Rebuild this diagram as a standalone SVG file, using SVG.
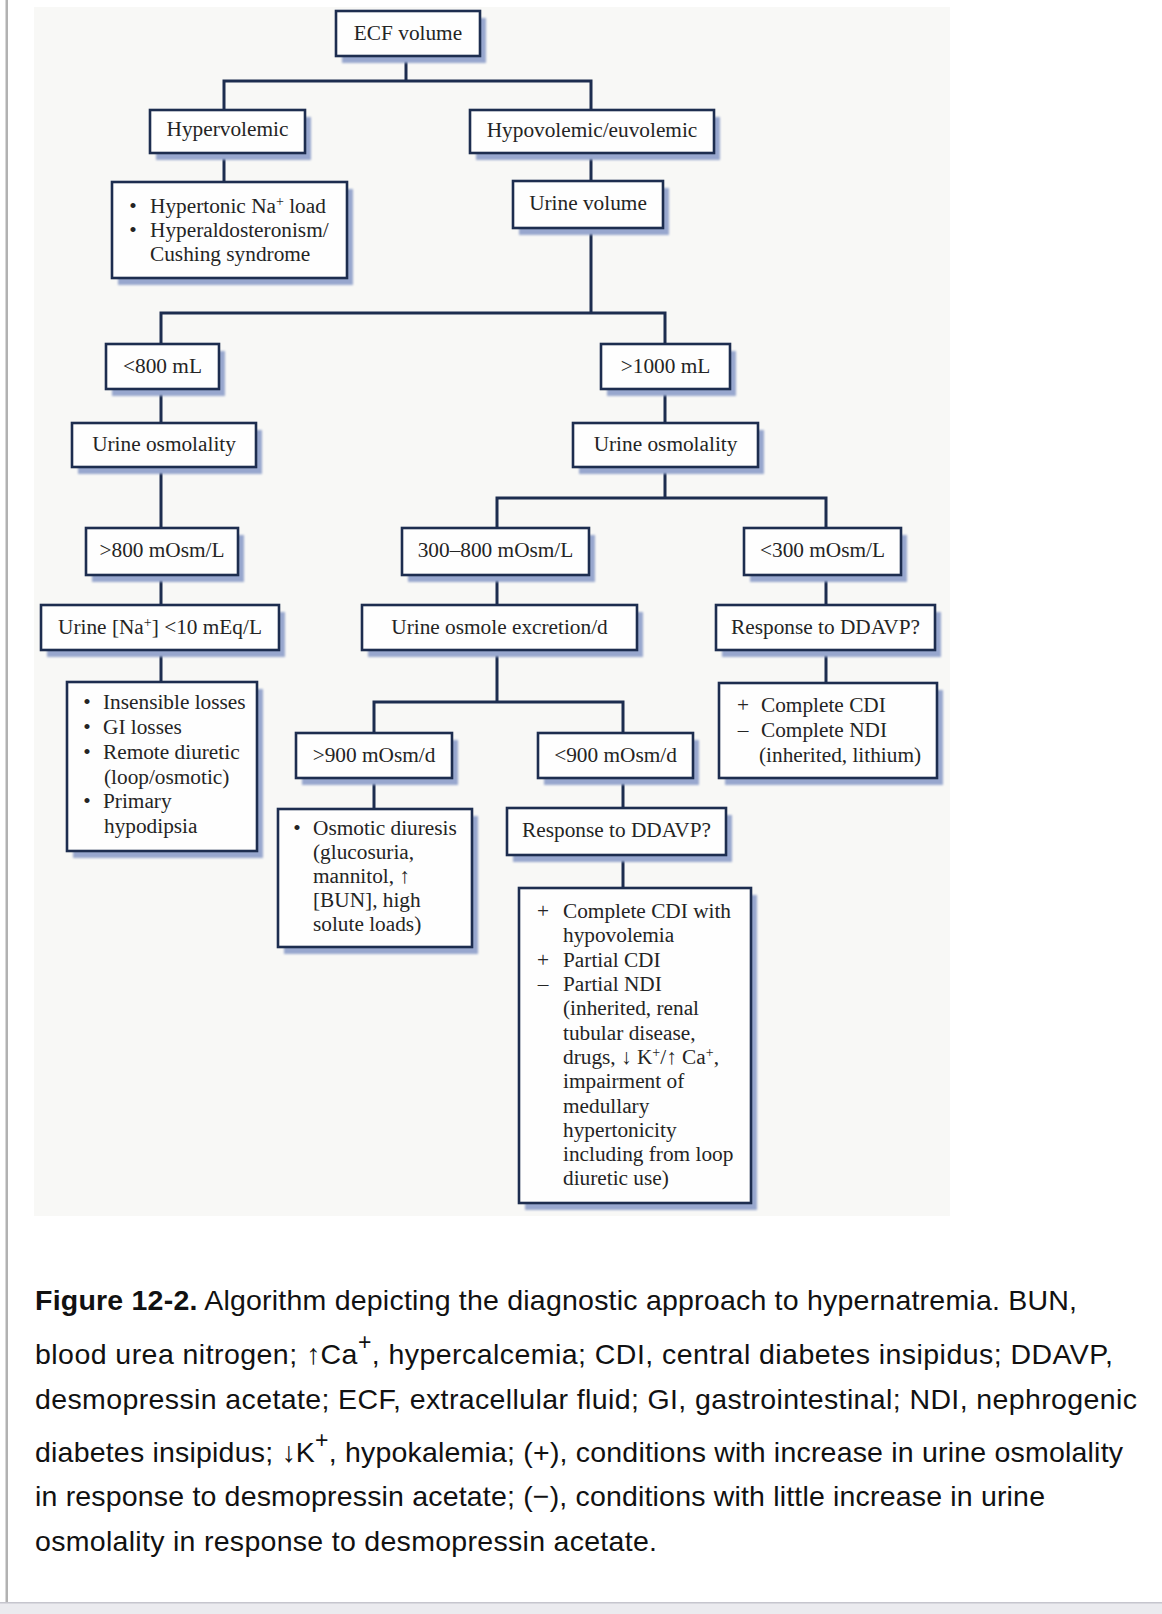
<svg xmlns="http://www.w3.org/2000/svg" width="1162" height="1614" viewBox="0 0 1162 1614">
  <defs>
    <filter id="soft" x="-10%" y="-10%" width="120%" height="120%">
      <feGaussianBlur stdDeviation="0.8"/>
    </filter>
  </defs>
  <style>
    .shadow{fill:#98a7ce;filter:url(#soft)}
    .box{fill:#fefefe;stroke:#1d2d4f;stroke-width:2.6}
    .t{font-family:"Liberation Serif","Times New Roman",serif;font-size:21.3px;fill:#242424}
    .c{text-anchor:middle}
    .sup{font-size:14px}
    .link{fill:none;stroke:#1d2d4f;stroke-width:3;stroke-linejoin:miter}
    .cap{font-family:"Liberation Sans",Arial,sans-serif;font-size:28.5px;fill:#111}
    .capsup{font-size:23px}
  </style>

  <!-- page -->
  <rect x="0" y="0" width="1162" height="1614" fill="#ffffff"/>
  <rect x="34" y="7" width="916" height="1209" fill="#f8f8f6"/>
  <rect x="5.5" y="0" width="2.5" height="1603" fill="#b2b2b2"/>
  <rect x="0" y="1603" width="1162" height="11" fill="#ebebef"/>
  <rect x="0" y="1602" width="1162" height="1.5" fill="#c6c6ce"/>

  <!-- connectors -->
  <g id="connectors" class="link">
    <path d="M406 56 V81 M224 110 V81 H591 V110"/>
    <path d="M224 153 V182"/>
    <path d="M591 153 V181 M591 228 V313"/>
    <path d="M161 344 V313 H665 V344"/>
    <path d="M161 389 V423 M161 467 V528 M161 575 V605 M161 650 V682"/>
    <path d="M665 389 V423 M665 467 V498"/>
    <path d="M497 528 V498 H826 V528"/>
    <path d="M497 575 V605 M497 650 V702"/>
    <path d="M374 733 V702 H623 V733"/>
    <path d="M374 778 V809"/>
    <path d="M623 778 V808 M623 855 V888"/>
    <path d="M826 575 V605 M826 650 V683"/>
  </g>

  <!-- nodes -->
  <g id="ecf-volume">
    <rect class="shadow" x="342" y="18" width="144" height="45"/>
    <rect class="box" x="336" y="11" width="144" height="45"/>
    <text class="t c" x="408" y="40">ECF volume</text>
  </g>

  <g id="hypervolemic">
    <rect class="shadow" x="156" y="117" width="155" height="43"/>
    <rect class="box" x="150" y="110" width="155" height="43"/>
    <text class="t c" x="227.5" y="136">Hypervolemic</text>
  </g>

  <g id="hypovolemic-euvolemic">
    <rect class="shadow" x="476" y="117" width="244" height="43"/>
    <rect class="box" x="470" y="110" width="244" height="43"/>
    <text class="t c" x="592" y="137">Hypovolemic/euvolemic</text>
  </g>

  <g id="hypervolemic-causes">
    <rect class="shadow" x="118" y="189" width="235" height="96"/>
    <rect class="box" x="112" y="182" width="235" height="96"/>
    <text class="t" x="133" y="213" text-anchor="middle">•</text>
    <text class="t" x="150" y="213">Hypertonic Na<tspan class="sup" dy="-7">+</tspan><tspan dy="7"> load</tspan></text>
    <text class="t" x="133" y="237" text-anchor="middle">•</text>
    <text class="t" x="150" y="237">Hyperaldosteronism/</text>
    <text class="t" x="150" y="261">Cushing syndrome</text>
  </g>

  <g id="urine-volume">
    <rect class="shadow" x="519" y="188" width="150" height="47"/>
    <rect class="box" x="513" y="181" width="150" height="47"/>
    <text class="t c" x="588" y="210">Urine volume</text>
  </g>

  <g id="lt-800-ml">
    <rect class="shadow" x="112" y="351" width="113" height="45"/>
    <rect class="box" x="106" y="344" width="113" height="45"/>
    <text class="t c" x="162.5" y="373">&lt;800 mL</text>
  </g>

  <g id="gt-1000-ml">
    <rect class="shadow" x="607" y="351" width="129" height="45"/>
    <rect class="box" x="601" y="344" width="129" height="45"/>
    <text class="t c" x="665.5" y="373">&gt;1000 mL</text>
  </g>

  <g id="urine-osmolality-left">
    <rect class="shadow" x="78" y="430" width="184" height="44"/>
    <rect class="box" x="72" y="423" width="184" height="44"/>
    <text class="t c" x="164" y="451">Urine osmolality</text>
  </g>

  <g id="urine-osmolality-right">
    <rect class="shadow" x="579" y="430" width="185" height="44"/>
    <rect class="box" x="573" y="423" width="185" height="44"/>
    <text class="t c" x="665.5" y="451">Urine osmolality</text>
  </g>

  <g id="gt-800-mosm-l">
    <rect class="shadow" x="92" y="535" width="152" height="47"/>
    <rect class="box" x="86" y="528" width="152" height="47"/>
    <text class="t c" x="162" y="557">&gt;800 mOsm/L</text>
  </g>

  <g id="mosm-300-800">
    <rect class="shadow" x="408" y="535" width="187" height="47"/>
    <rect class="box" x="402" y="528" width="187" height="47"/>
    <text class="t c" x="495.5" y="557">300–800 mOsm/L</text>
  </g>

  <g id="lt-300-mosm-l">
    <rect class="shadow" x="750" y="535" width="157" height="47"/>
    <rect class="box" x="744" y="528" width="157" height="47"/>
    <text class="t c" x="822.5" y="557">&lt;300 mOsm/L</text>
  </g>

  <g id="urine-sodium">
    <rect class="shadow" x="47" y="612" width="238" height="45"/>
    <rect class="box" x="41" y="605" width="238" height="45"/>
    <text class="t c" x="160" y="634">Urine [Na<tspan class="sup" dy="-7">+</tspan><tspan dy="7">] &lt;10 mEq/L</tspan></text>
  </g>

  <g id="urine-osmole-excretion">
    <rect class="shadow" x="368" y="612" width="275" height="45"/>
    <rect class="box" x="362" y="605" width="275" height="45"/>
    <text class="t c" x="499.5" y="634">Urine osmole excretion/d</text>
  </g>

  <g id="ddavp-response-right">
    <rect class="shadow" x="722" y="612" width="219" height="45"/>
    <rect class="box" x="716" y="605" width="219" height="45"/>
    <text class="t c" x="825.5" y="634">Response to DDAVP?</text>
  </g>

  <g id="low-volume-causes">
    <rect class="shadow" x="73" y="689" width="190" height="169"/>
    <rect class="box" x="67" y="682" width="190" height="169"/>
    <text class="t" x="87" y="709" text-anchor="middle">•</text>
    <text class="t" x="103" y="709">Insensible losses</text>
    <text class="t" x="87" y="734" text-anchor="middle">•</text>
    <text class="t" x="103" y="734">GI losses</text>
    <text class="t" x="87" y="759" text-anchor="middle">•</text>
    <text class="t" x="103" y="759">Remote diuretic</text>
    <text class="t" x="104" y="784">(loop/osmotic)</text>
    <text class="t" x="87" y="808" text-anchor="middle">•</text>
    <text class="t" x="103" y="808">Primary</text>
    <text class="t" x="104" y="833">hypodipsia</text>
  </g>

  <g id="gt-900-mosm-d">
    <rect class="shadow" x="302" y="740" width="156" height="45"/>
    <rect class="box" x="296" y="733" width="156" height="45"/>
    <text class="t c" x="374" y="762">&gt;900 mOsm/d</text>
  </g>

  <g id="lt-900-mosm-d">
    <rect class="shadow" x="544" y="740" width="155" height="45"/>
    <rect class="box" x="538" y="733" width="155" height="45"/>
    <text class="t c" x="615.5" y="762">&lt;900 mOsm/d</text>
  </g>

  <g id="complete-di">
    <rect class="shadow" x="725" y="690" width="218" height="95"/>
    <rect class="box" x="719" y="683" width="218" height="95"/>
    <text class="t" x="743" y="712" text-anchor="middle">+</text>
    <text class="t" x="761" y="712">Complete CDI</text>
    <text class="t" x="743" y="737" text-anchor="middle">–</text>
    <text class="t" x="761" y="737">Complete NDI</text>
    <text class="t" x="759" y="762">(inherited, lithium)</text>
  </g>

  <g id="osmotic-diuresis">
    <rect class="shadow" x="284" y="816" width="194" height="138"/>
    <rect class="box" x="278" y="809" width="194" height="138"/>
    <text class="t" x="297" y="835" text-anchor="middle">•</text>
    <text class="t" x="313" y="835">Osmotic diuresis</text>
    <text class="t" x="313" y="859">(glucosuria,</text>
    <text class="t" x="313" y="883">mannitol, ↑</text>
    <text class="t" x="313" y="907">[BUN], high</text>
    <text class="t" x="313" y="931">solute loads)</text>
  </g>

  <g id="ddavp-response-middle">
    <rect class="shadow" x="513" y="815" width="219" height="47"/>
    <rect class="box" x="507" y="808" width="219" height="47"/>
    <text class="t c" x="616.5" y="837">Response to DDAVP?</text>
  </g>

  <g id="partial-di">
    <rect class="shadow" x="525" y="895" width="232" height="315"/>
    <rect class="box" x="519" y="888" width="232" height="315"/>
    <text class="t" x="543" y="918" text-anchor="middle">+</text>
    <text class="t" x="563" y="918">Complete CDI with</text>
    <text class="t" x="563" y="942">hypovolemia</text>
    <text class="t" x="543" y="967" text-anchor="middle">+</text>
    <text class="t" x="563" y="967">Partial CDI</text>
    <text class="t" x="543" y="991" text-anchor="middle">–</text>
    <text class="t" x="563" y="991">Partial NDI</text>
    <text class="t" x="563" y="1015">(inherited, renal</text>
    <text class="t" x="563" y="1040">tubular disease,</text>
    <text class="t" x="563" y="1064">drugs, ↓ K<tspan class="sup" dy="-7">+</tspan><tspan dy="7">/↑ Ca</tspan><tspan class="sup" dy="-7">+</tspan><tspan dy="7">,</tspan></text>
    <text class="t" x="563" y="1088">impairment of</text>
    <text class="t" x="563" y="1113">medullary</text>
    <text class="t" x="563" y="1137">hypertonicity</text>
    <text class="t" x="563" y="1161">including from loop</text>
    <text class="t" x="563" y="1185">diuretic use)</text>
  </g>

  <!-- caption -->
  <g id="caption" class="cap">
    <text x="35" y="1310" textLength="1042" lengthAdjust="spacing"><tspan font-weight="bold">Figure 12-2.</tspan> Algorithm depicting the diagnostic approach to hypernatremia. BUN,</text>
    <text x="35" y="1364" textLength="1078" lengthAdjust="spacing">blood urea nitrogen; ↑Ca<tspan class="capsup" dy="-14">+</tspan><tspan dy="14">, hypercalcemia; CDI, central diabetes insipidus; DDAVP,</tspan></text>
    <text x="35" y="1409" textLength="1102" lengthAdjust="spacing">desmopressin acetate; ECF, extracellular fluid; GI, gastrointestinal; NDI, nephrogenic</text>
    <text x="35" y="1462" textLength="1088" lengthAdjust="spacing">diabetes insipidus; ↓K<tspan class="capsup" dy="-14">+</tspan><tspan dy="14">, hypokalemia; (+), conditions with increase in urine osmolality</tspan></text>
    <text x="35" y="1506" textLength="1010" lengthAdjust="spacing">in response to desmopressin acetate; (−), conditions with little increase in urine</text>
    <text x="35" y="1551" textLength="622" lengthAdjust="spacing">osmolality in response to desmopressin acetate.</text>
  </g>
</svg>
